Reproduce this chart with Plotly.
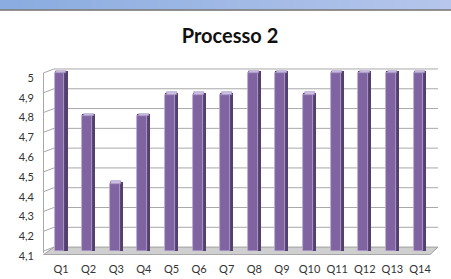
import plotly.graph_objects as go

# ---- data ----
categories = ["Q1", "Q2", "Q3", "Q4", "Q5", "Q6", "Q7", "Q8", "Q9", "Q10", "Q11", "Q12", "Q13", "Q14"]
values = [5.0, 4.78, 4.44, 4.78, 4.89, 4.89, 4.89, 5.0, 5.0, 4.89, 5.0, 5.0, 5.0, 5.0]
y_tick_values = [4.1, 4.2, 4.3, 4.4, 4.5, 4.6, 4.7, 4.8, 4.9, 5.0]
y_tick_labels = ["4,1", "4,2", "4,3", "4,4", "4,5", "4,6", "4,7", "4,8", "4,9", "5"]
title_text = "Processo 2"

# ---- layout geometry ----
W, H = 451, 279
L, R, T, B = 44, 17, 67, 24
Y_RANGE = [4.08, 5.03]
X_RANGE = [-0.616, 13.507]
BASE = 4.1
DEPTH_Y = 0.02          # back-wall shift (data units)
PW = W - L - R
PH = H - T - B


def px_x(px):
    return (px - L) / PW


def px_y(py):
    return 1 - (py - T) / PH


FRONT_W = 0.36
SIDE_W = 0.47
OFF = -0.235

fig = go.Figure()

# side (dark) face
fig.add_trace(go.Bar(
    x=categories, y=[v - BASE + 0.01 for v in values], base=BASE,
    width=SIDE_W, offset=OFF, marker=dict(color="#54406f", line=dict(width=0)),
    hoverinfo="skip", showlegend=False))
# front face
fig.add_trace(go.Bar(
    x=categories, y=[v - BASE for v in values], base=BASE,
    width=FRONT_W, offset=OFF, marker=dict(color="#8064a2", line=dict(width=0.8, color="#b9a8d6")),
    showlegend=False))
# top face
fig.add_trace(go.Bar(
    x=categories, y=[0.012] * len(values), base=values,
    width=FRONT_W, offset=OFF + 0.06, marker=dict(color="#cdc1e3", line=dict(width=0.6, color="#9c86bd")),
    hoverinfo="skip", showlegend=False))

shapes = []
# top blue gradient strip
n = 40
c0 = (138, 172, 224)
c1 = (182, 198, 236)
for i in range(n):
    t = i / (n - 1)
    col = tuple(int(c0[k] + (c1[k] - c0[k]) * t) for k in range(3))
    shapes.append(dict(type="rect", xref="paper", yref="paper",
                       x0=px_x(W * i / n), x1=px_x(W * (i + 1) / n + 1),
                       y0=px_y(0), y1=px_y(9.5), line=dict(width=0),
                       fillcolor="rgb(%d,%d,%d)" % col, layer="below"))
shapes.append(dict(type="line", xref="paper", yref="paper",
                   x0=px_x(0), x1=px_x(W), y0=px_y(10), y1=px_y(10),
                   line=dict(color="#6e6e6e", width=1.5)))

# back-wall gridlines
for v in y_tick_values[1:]:
    shapes.append(dict(type="line", xref="paper", yref="y",
                       x0=px_x(54), x1=px_x(438), y0=v + DEPTH_Y, y1=v + DEPTH_Y,
                       line=dict(color="#a8a8a8", width=1), layer="below"))
# left wall: front edge and diagonals
shapes.append(dict(type="line", xref="paper", yref="y",
                   x0=px_x(43.5), x1=px_x(43.5), y0=BASE - 0.01, y1=y_tick_values[-1],
                   line=dict(color="#a8a8a8", width=1), layer="below"))
for v in y_tick_values:
    shapes.append(dict(type="line", xref="paper", yref="y",
                       x0=px_x(43.5), x1=px_x(54), y0=v, y1=v + DEPTH_Y,
                       line=dict(color="#a8a8a8", width=1), layer="below"))
# floor
shapes.append(dict(type="path", xref="paper", yref="y",
                   path="M %f,%f L %f,%f L %f,%f L %f,%f Z" % (
                       px_x(43.5), BASE - 0.018, px_x(430), BASE - 0.018,
                       px_x(438), BASE + DEPTH_Y, px_x(54), BASE + DEPTH_Y),
                   fillcolor="#cfcfcf", line=dict(color="#a0a0a0", width=1), layer="below"))

fig.update_layout(
    width=W, height=H,
    margin=dict(l=L, r=R, t=T, b=B, pad=0, autoexpand=False),
    paper_bgcolor="white", plot_bgcolor="rgba(0,0,0,0)",
    barmode="overlay", bargap=0,
    showlegend=False,
    font=dict(family="Lato, Open Sans, sans-serif", size=11, color="#333333"),
    title=dict(text="<b>" + title_text + "</b>", x=230 / W, xref="container", xanchor="center",
               y=1 - 36 / H, yref="container", yanchor="middle",
               font=dict(family="Lato, Open Sans, sans-serif", size=20, color="#111111")),
    xaxis=dict(range=X_RANGE, showgrid=False, zeroline=False, showline=False, automargin=False,
               ticks="", ticklabelstandoff=6, tickfont=dict(size=11, color="#333333"),
               fixedrange=True),
    yaxis=dict(range=Y_RANGE, showgrid=False, zeroline=False, showline=False, automargin=False,
               tickvals=y_tick_values, ticktext=y_tick_labels, ticks="",
               ticklabelstandoff=9, ticklabelshift=5, tickfont=dict(size=11, color="#333333"),
               fixedrange=True),
    shapes=shapes,
)

fig.write_html("out.html", config={"displayModeBar": False},
               post_script="document.body.style.margin='0px';document.body.style.overflow='hidden';")
